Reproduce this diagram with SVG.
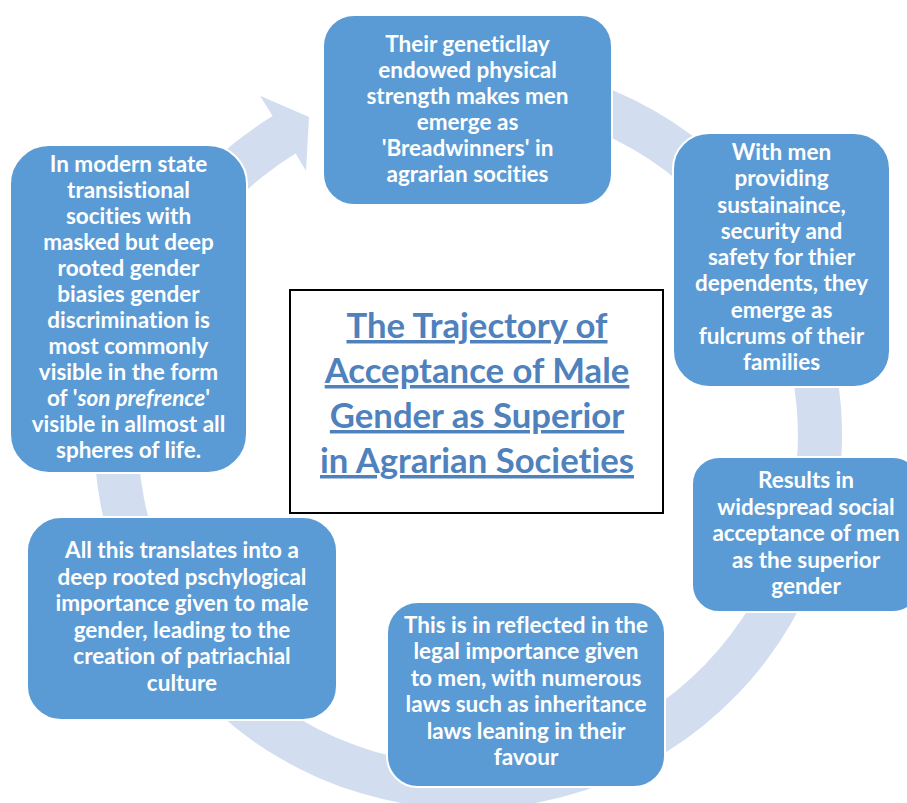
<svg xmlns="http://www.w3.org/2000/svg" width="907" height="803" viewBox="0 0 907 803">
  <style>
    .box { fill: #5B9BD5; stroke: #FFFFFF; stroke-width: 2; }
    .lbl { font-family: "Lato", "Carlito", "Liberation Sans", sans-serif; font-weight: bold; font-size: 22.5px; fill: #FFFFFF; text-anchor: middle; font-variant-ligatures: none; }
    .title { font-family: "Lato", "Carlito", "Liberation Sans", sans-serif; font-weight: bold; font-size: 34.7px; fill: #4F81BD; text-anchor: middle; text-decoration: underline; font-variant-ligatures: none; }
    .ring { fill: #D2DEEF; }
  </style>
  <rect width="907" height="803" fill="#FFFFFF"/>

  <!-- circular arrow running clockwise behind the nodes -->
  <g id="connectors">
    <path class="ring" d="M 435.4 62.4 A 374 374 0 1 1 272.6 116.1 L 260 95.7 L 309 117 L 306 170.7 L 295.6 153.6 A 330 330 0 1 0 439.2 106.3 Z"/>
  </g>

  <g id="node-breadwinners">
    <rect class="box" x="323" y="15" width="289" height="190" rx="31" ry="31"/>
    <text class="lbl" x="467.5" y="51.7">Their geneticllay</text>
    <text class="lbl" x="467.5" y="77.7">endowed physical</text>
    <text class="lbl" x="467.5" y="103.7">strength makes men</text>
    <text class="lbl" x="467.5" y="129.7">emerge as</text>
    <text class="lbl" x="467.5" y="155.7">'Breadwinners' in</text>
    <text class="lbl" x="467.5" y="181.7">agrarian socities</text>
  </g>

  <g id="node-fulcrums">
    <rect class="box" x="673" y="133" width="217" height="254" rx="36" ry="36"/>
    <text class="lbl" x="781.5" y="160">With men</text>
    <text class="lbl" x="781.5" y="186.3">providing</text>
    <text class="lbl" x="781.5" y="212.5">sustainaince,</text>
    <text class="lbl" x="781.5" y="238.8">security and</text>
    <text class="lbl" x="781.5" y="265">safety for thier</text>
    <text class="lbl" x="781.5" y="291.3">dependents, they</text>
    <text class="lbl" x="781.5" y="317.5">emerge as</text>
    <text class="lbl" x="781.5" y="343.8">fulcrums of their</text>
    <text class="lbl" x="781.5" y="370">families</text>
  </g>

  <g id="node-acceptance">
    <rect class="box" x="692" y="457" width="228" height="155" rx="27" ry="27"/>
    <text class="lbl" x="806" y="488">Results in</text>
    <text class="lbl" x="806" y="514.5">widespread social</text>
    <text class="lbl" x="806" y="541">acceptance of men</text>
    <text class="lbl" x="806" y="567.5">as the superior</text>
    <text class="lbl" x="806" y="594">gender</text>
  </g>

  <g id="node-legal">
    <rect class="box" x="387" y="602" width="278" height="185" rx="31" ry="31"/>
    <text class="lbl" x="526" y="633">This is in reflected in the</text>
    <text class="lbl" x="526" y="659.4">legal importance given</text>
    <text class="lbl" x="526" y="685.8">to men, with numerous</text>
    <text class="lbl" x="526" y="712.2">laws such as inheritance</text>
    <text class="lbl" x="526" y="738.6">laws leaning in their</text>
    <text class="lbl" x="526" y="765">favour</text>
  </g>

  <g id="node-psychology">
    <rect class="box" x="27" y="517" width="310" height="203" rx="34" ry="34"/>
    <text class="lbl" x="182" y="558">All this translates into a</text>
    <text class="lbl" x="182" y="584.6">deep rooted pschylogical</text>
    <text class="lbl" x="182" y="611.2">importance given to male</text>
    <text class="lbl" x="182" y="637.8">gender, leading to the</text>
    <text class="lbl" x="182" y="664.4">creation of patriachial</text>
    <text class="lbl" x="182" y="691">culture</text>
  </g>

  <g id="node-son-preference">
    <rect class="box" x="10" y="145" width="237" height="328" rx="39" ry="39"/>
    <text class="lbl" x="128.5" y="171.7">In modern state</text>
    <text class="lbl" x="128.5" y="197.8">transistional</text>
    <text class="lbl" x="128.5" y="223.8">socities with</text>
    <text class="lbl" x="128.5" y="249.9">masked but deep</text>
    <text class="lbl" x="128.5" y="275.9">rooted gender</text>
    <text class="lbl" x="128.5" y="302">biasies gender</text>
    <text class="lbl" x="128.5" y="328">discrimination is</text>
    <text class="lbl" x="128.5" y="354.1">most commonly</text>
    <text class="lbl" x="128.5" y="380.2">visible in the form</text>
    <text class="lbl" x="128.5" y="406.2">of '<tspan font-style="italic">son prefrence</tspan>'</text>
    <text class="lbl" x="128.5" y="432.3">visible in allmost all</text>
    <text class="lbl" x="128.5" y="458.3">spheres of life.</text>
  </g>

  <g id="node-title">
    <rect x="290" y="290" width="373" height="223" fill="#FFFFFF" stroke="#000000" stroke-width="2"/>
    <text class="title" x="477" y="338">The Trajectory of</text>
    <text class="title" x="477" y="383">Acceptance of Male</text>
    <text class="title" x="477" y="428">Gender as Superior</text>
    <text class="title" x="477" y="473">in Agrarian Societies</text>
  </g>
</svg>
